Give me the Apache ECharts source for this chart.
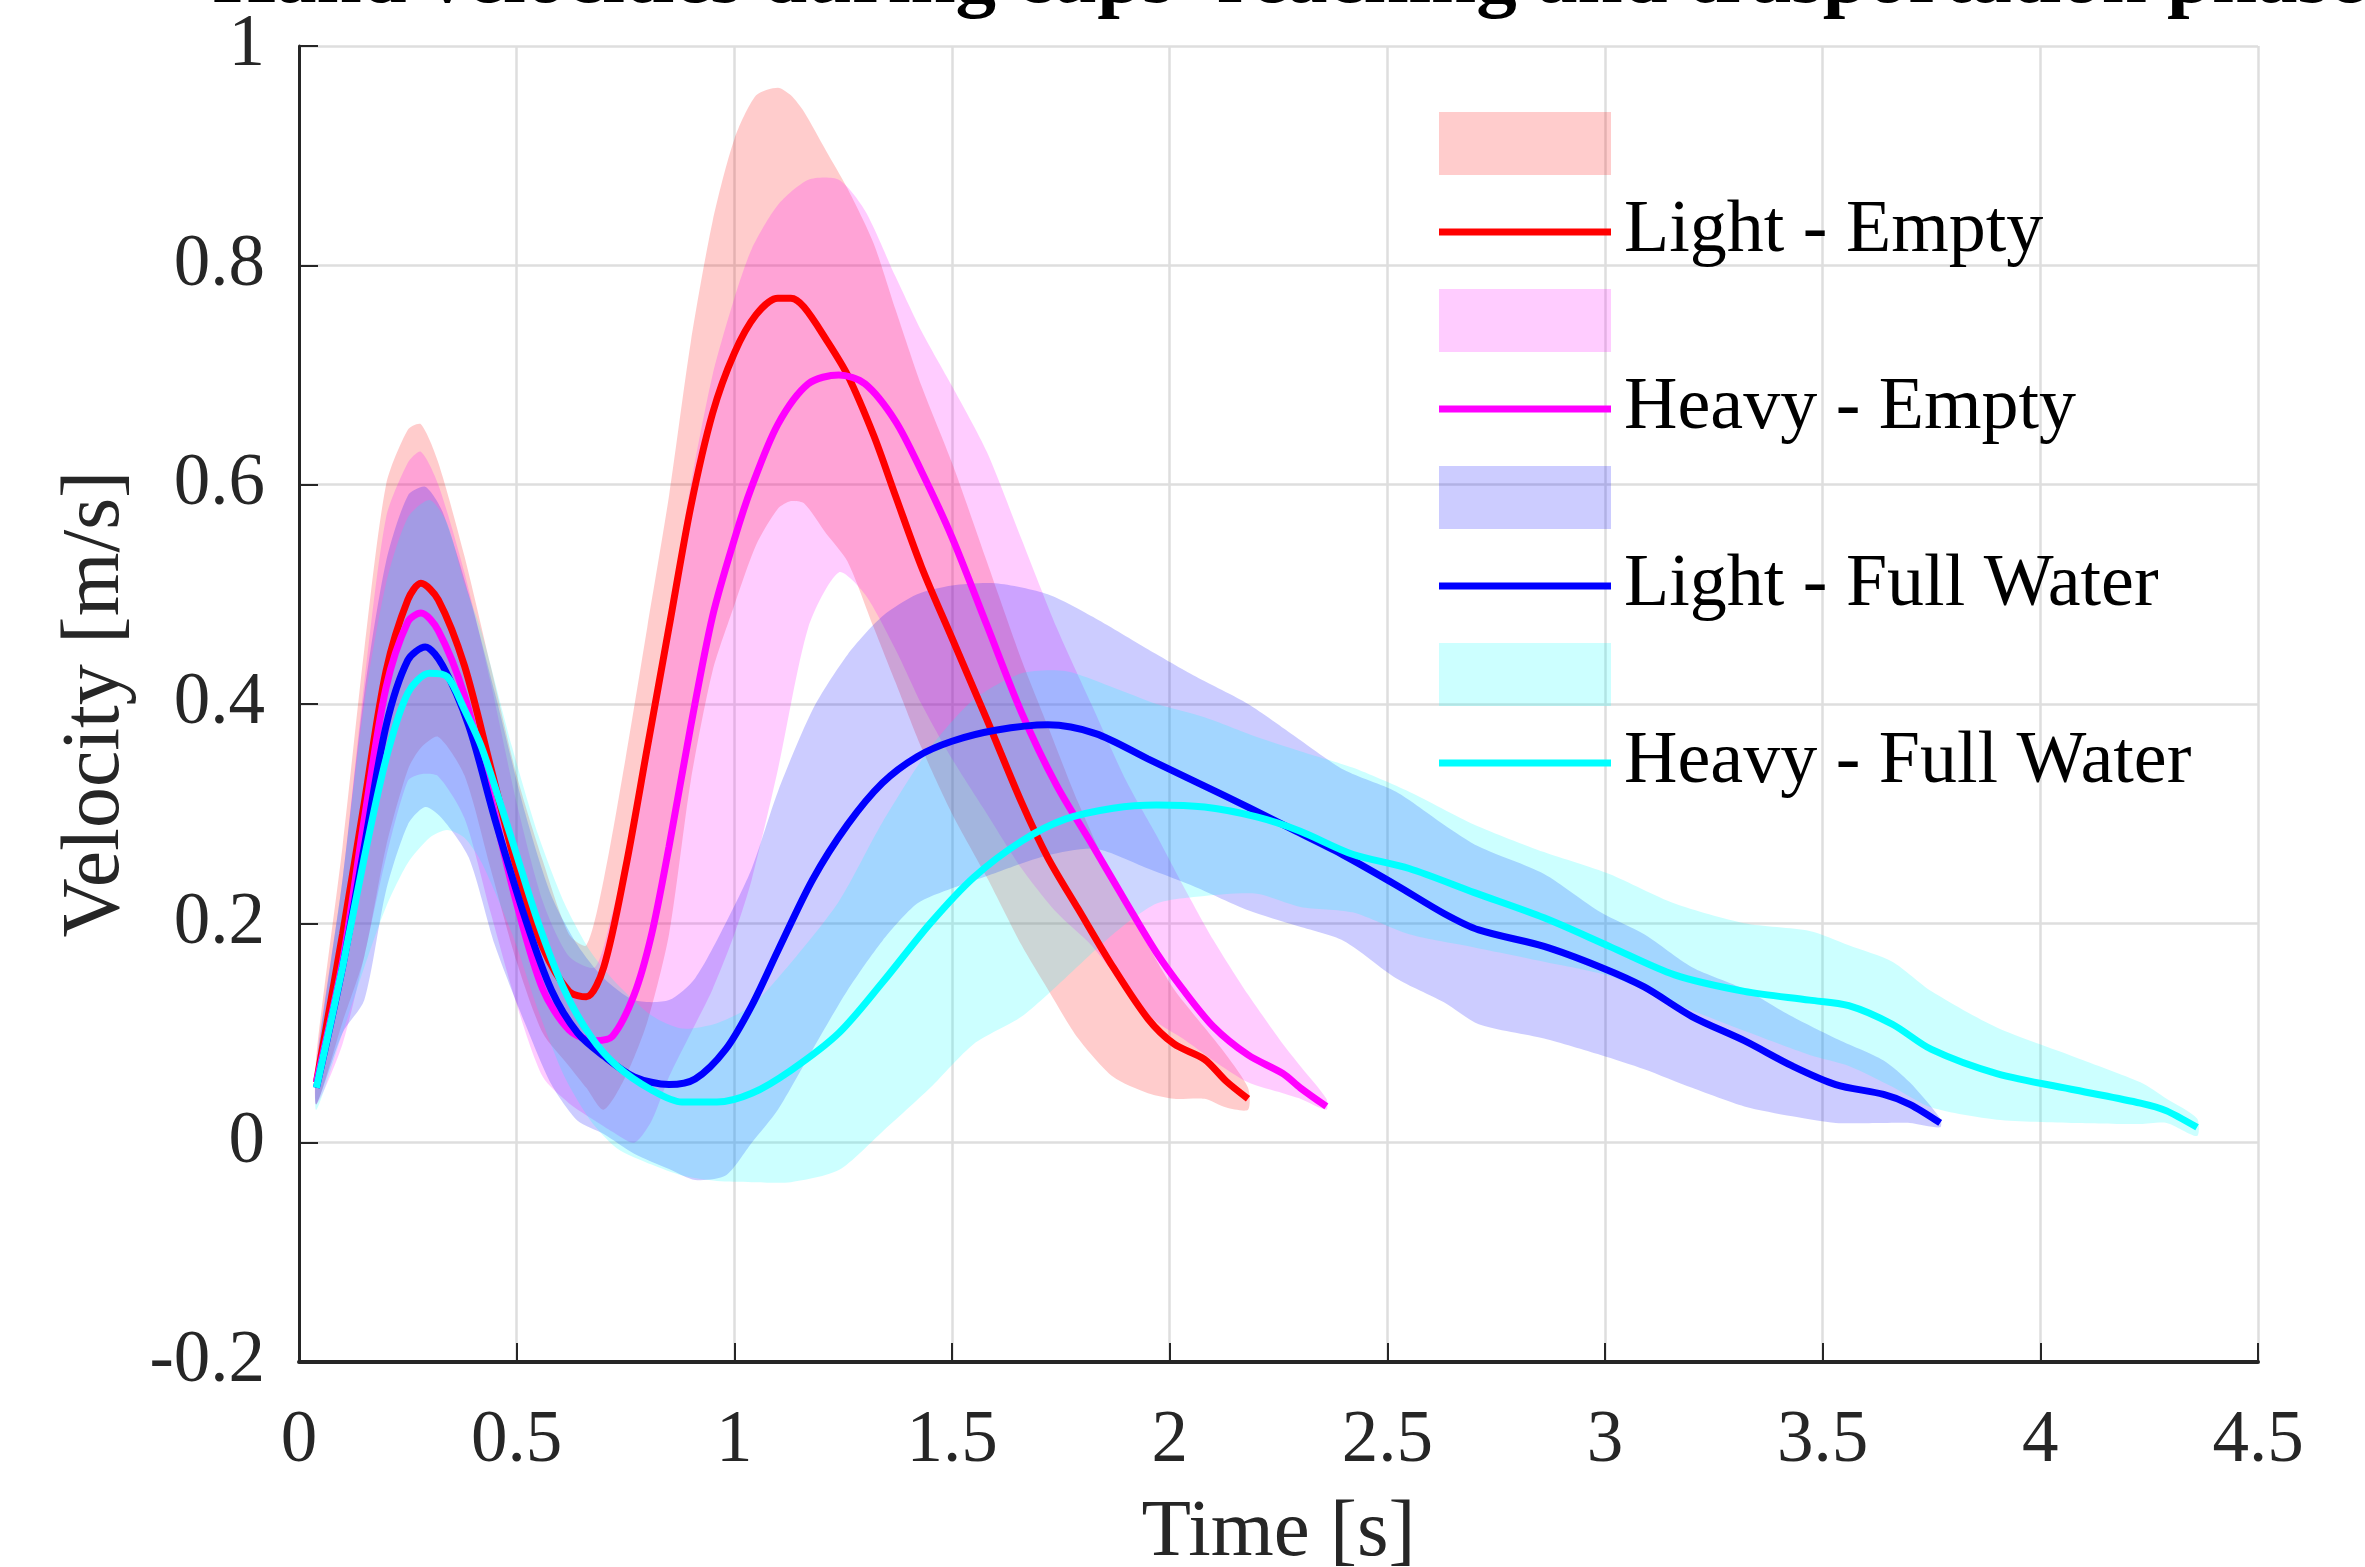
<!DOCTYPE html>
<html>
<head>
<meta charset="utf-8">
<script src="https://cdn.jsdelivr.net/npm/echarts@6/dist/echarts.min.js"></script>
<style>html,body{margin:0;padding:0;background:#fff}#chart{width:2365px;height:1567px}</style>
</head>
<body>
<div id="chart"></div>
<script>
// ---- Data ----
const TITLE = "Hand velocities during cups' reaching and trasportation phase";
const X_TICKS = [0, 0.5, 1, 1.5, 2, 2.5, 3, 3.5, 4, 4.5];
const Y_TICKS = [-0.2, 0, 0.2, 0.4, 0.6, 0.8, 1];

// Light - Empty
const T_LE = [0.04,0.10,0.15,0.20,0.25,0.28,0.32,0.38,0.44,0.50,0.56,0.62,0.66,0.70,0.75,0.80,0.85,0.90,0.95,1.00,1.05,1.10,1.13,1.16,1.21,1.26,1.32,1.37,1.43,1.50,1.58,1.66,1.72,1.79,1.87,1.95,2.01,2.08,2.13,2.18];
const M_LE = [0.055,0.19,0.31,0.43,0.495,0.51,0.495,0.435,0.343,0.25,0.178,0.138,0.133,0.16,0.25,0.36,0.47,0.58,0.665,0.72,0.755,0.77,0.77,0.762,0.733,0.70,0.645,0.59,0.525,0.46,0.386,0.31,0.26,0.213,0.16,0.113,0.09,0.076,0.056,0.04];
const U_LE = [0.08,0.27,0.45,0.60,0.65,0.655,0.62,0.535,0.435,0.335,0.257,0.19,0.18,0.24,0.35,0.47,0.59,0.73,0.84,0.915,0.955,0.962,0.955,0.94,0.905,0.87,0.82,0.76,0.69,0.62,0.53,0.44,0.38,0.31,0.24,0.18,0.14,0.105,0.08,0.05];
const L_LE = [0.035,0.11,0.17,0.27,0.34,0.36,0.37,0.335,0.25,0.165,0.1,0.07,0.05,0.03,0.06,0.11,0.19,0.33,0.43,0.49,0.545,0.578,0.585,0.583,0.556,0.53,0.47,0.42,0.36,0.30,0.242,0.18,0.14,0.095,0.06,0.045,0.04,0.04,0.032,0.03];

// Heavy - Empty
const T_HE = [0.04,0.10,0.15,0.20,0.25,0.28,0.32,0.38,0.44,0.50,0.56,0.62,0.68,0.72,0.77,0.81,0.85,0.90,0.95,1.00,1.04,1.10,1.17,1.24,1.30,1.37,1.43,1.50,1.58,1.66,1.74,1.82,1.90,1.97,2.03,2.10,2.18,2.26,2.30,2.36];
const M_HE = [0.055,0.165,0.295,0.415,0.475,0.483,0.467,0.408,0.315,0.218,0.14,0.103,0.093,0.097,0.135,0.19,0.27,0.38,0.48,0.55,0.598,0.655,0.692,0.70,0.692,0.658,0.612,0.552,0.472,0.392,0.326,0.273,0.219,0.173,0.14,0.106,0.08,0.063,0.05,0.033];
const U_HE = [0.075,0.24,0.42,0.57,0.62,0.63,0.60,0.52,0.42,0.31,0.22,0.17,0.16,0.21,0.29,0.37,0.48,0.60,0.70,0.77,0.815,0.855,0.878,0.878,0.85,0.79,0.74,0.69,0.63,0.55,0.47,0.40,0.33,0.28,0.235,0.185,0.135,0.09,0.07,0.04];
const L_HE = [0.035,0.09,0.17,0.26,0.33,0.336,0.334,0.296,0.21,0.126,0.06,0.036,0.02,0.01,0.0,0.02,0.06,0.10,0.14,0.19,0.24,0.34,0.47,0.52,0.50,0.45,0.40,0.35,0.30,0.25,0.21,0.18,0.14,0.11,0.095,0.075,0.055,0.045,0.04,0.03];

// Light - Full Water
const T_LF = [0.04,0.10,0.15,0.20,0.25,0.29,0.33,0.39,0.45,0.52,0.58,0.64,0.70,0.77,0.85,0.91,0.98,1.04,1.10,1.18,1.26,1.34,1.42,1.50,1.60,1.72,1.83,1.95,2.06,2.18,2.29,2.40,2.52,2.63,2.71,2.86,2.99,3.09,3.20,3.32,3.43,3.53,3.64,3.70,3.77];
const M_LF = [0.05,0.16,0.27,0.38,0.44,0.452,0.435,0.38,0.295,0.204,0.139,0.10,0.079,0.06,0.053,0.058,0.085,0.125,0.175,0.24,0.29,0.328,0.352,0.366,0.376,0.381,0.373,0.35,0.329,0.306,0.284,0.262,0.235,0.209,0.194,0.179,0.16,0.142,0.115,0.093,0.07,0.053,0.044,0.035,0.018];
const U_LF = [0.07,0.24,0.41,0.53,0.59,0.598,0.575,0.50,0.41,0.30,0.225,0.18,0.15,0.13,0.13,0.15,0.20,0.25,0.32,0.395,0.445,0.48,0.50,0.508,0.51,0.50,0.478,0.45,0.425,0.40,0.37,0.34,0.32,0.29,0.27,0.245,0.21,0.19,0.16,0.14,0.115,0.095,0.075,0.055,0.022];
const L_LF = [0.035,0.10,0.13,0.23,0.29,0.306,0.295,0.26,0.18,0.108,0.053,0.02,0.008,-0.01,-0.024,-0.034,-0.03,0.0,0.03,0.085,0.139,0.184,0.218,0.232,0.246,0.262,0.268,0.25,0.233,0.212,0.198,0.184,0.15,0.128,0.108,0.095,0.08,0.067,0.05,0.033,0.024,0.018,0.018,0.018,0.014];

// Heavy - Full Water
const T_HF = [0.04,0.10,0.15,0.20,0.25,0.30,0.34,0.38,0.42,0.49,0.55,0.61,0.67,0.73,0.81,0.88,0.96,1.04,1.13,1.24,1.34,1.45,1.55,1.66,1.76,1.87,1.97,2.08,2.20,2.30,2.42,2.55,2.70,2.86,3.01,3.16,3.32,3.47,3.56,3.66,3.75,3.90,4.08,4.23,4.29,4.36];
const M_HF = [0.05,0.16,0.26,0.35,0.41,0.428,0.425,0.395,0.36,0.275,0.2,0.139,0.097,0.07,0.048,0.037,0.037,0.045,0.066,0.1,0.146,0.2,0.242,0.275,0.295,0.305,0.308,0.306,0.297,0.284,0.263,0.25,0.228,0.205,0.179,0.153,0.138,0.13,0.125,0.108,0.085,0.063,0.048,0.036,0.029,0.014];
const U_HF = [0.07,0.24,0.40,0.51,0.57,0.586,0.565,0.51,0.465,0.36,0.28,0.218,0.174,0.145,0.116,0.104,0.109,0.125,0.164,0.22,0.292,0.36,0.404,0.428,0.43,0.415,0.40,0.388,0.37,0.357,0.342,0.32,0.29,0.265,0.245,0.218,0.2,0.193,0.18,0.165,0.138,0.105,0.078,0.055,0.04,0.022];
const L_HF = [0.03,0.1,0.16,0.215,0.255,0.278,0.285,0.278,0.255,0.19,0.12,0.06,0.02,-0.005,-0.02,-0.03,-0.035,-0.036,-0.036,-0.025,0.01,0.05,0.09,0.115,0.15,0.19,0.218,0.225,0.227,0.215,0.21,0.19,0.178,0.165,0.152,0.127,0.102,0.08,0.07,0.051,0.032,0.021,0.018,0.017,0.018,0.006];

const NAMES = ['Light - Empty', 'Heavy - Empty', 'Light - Full Water', 'Heavy - Full Water'];
const LINE_COLORS = ['#ff0000', '#ff00ff', '#0000ff', '#00ffff'];
const BAND_COLORS = ['rgba(255,0,0,0.2)', 'rgba(255,0,255,0.2)', 'rgba(0,0,255,0.2)', 'rgba(0,255,255,0.2)'];

// ---- Build ----
const FONT = '"Liberation Serif", "Times New Roman", serif';
const groups = [
  [T_LE, M_LE, U_LE, L_LE],
  [T_HE, M_HE, U_HE, L_HE],
  [T_LF, M_LF, U_LF, L_LF],
  [T_HF, M_HF, U_HF, L_HF]
];

function bandSeries(name, T, U, L, color) {
  return {
    type: 'custom',
    name: name,
    silent: true,
    clip: true,
    itemStyle: { color: color },
    data: T.map((t, i) => [t, L[i], U[i]]),
    encode: { x: 0, y: [1, 2] },
    renderItem: function (params, api) {
      if (params.dataIndex !== 0) return null;
      const pts = [];
      for (let i = 0; i < T.length; i++) pts.push(api.coord([T[i], U[i]]));
      for (let i = T.length - 1; i >= 0; i--) pts.push(api.coord([T[i], L[i]]));
      return { type: 'polygon', shape: { points: pts, smooth: 0.25 }, style: { fill: color, stroke: null } };
    }
  };
}

const series = [];
const legendData = [];
groups.forEach((g, k) => {
  const [T, M, U, L] = g;
  const bandName = NAMES[k] + ' band';
  series.push(bandSeries(bandName, T, U, L, BAND_COLORS[k]));
  series.push({
    type: 'line', name: NAMES[k], data: T.map((t, i) => [t, M[i]]),
    showSymbol: false, symbol: 'none', smooth: 0.3, silent: true,
    color: LINE_COLORS[k],
    lineStyle: { color: LINE_COLORS[k], width: 7 }
  });
  legendData.push({ name: bandName, icon: 'rect', itemStyle: { color: BAND_COLORS[k] } });
  legendData.push({ name: NAMES[k], icon: 'path://M0,0H172V7H0Z', itemStyle: { color: LINE_COLORS[k] } });
});

const chart = echarts.init(document.getElementById('chart'), null, { renderer: 'canvas' });
chart.setOption({
  animation: false,
  backgroundColor: '#ffffff',
  grid: { left: 299, right: 107, top: 46, bottom: 205, containLabel: false, outerBoundsMode: 'none' },
  graphic: [{
    type: 'text', x: 1289, y: -59, z: 100,
    style: { text: TITLE, font: 'bold 81px ' + FONT, fill: '#000',
             align: 'center', verticalAlign: 'top', textAlign: 'center', textVerticalAlign: 'top' }
  }],
  legend: {
    orient: 'vertical', left: 1434, top: 107,
    itemWidth: 172, itemHeight: 63, itemGap: 20,
    selectedMode: false,
    data: legendData,
    formatter: n => (n.endsWith(' band') ? '' : n),
    textStyle: { fontFamily: FONT, fontSize: 74, color: '#000', padding: [0, 0, 0, 8] }
  },
  xAxis: {
    type: 'value', min: X_TICKS[0], max: X_TICKS[X_TICKS.length - 1], interval: 0.5,
    name: 'Time [s]', nameLocation: 'middle', nameGap: 131,
    nameTextStyle: { fontFamily: FONT, fontSize: 81, color: '#262626' },
    axisLine: { show: true, onZero: false, lineStyle: { color: '#262626', width: 4 } },
    axisTick: { show: true, inside: true, length: 19, lineStyle: { color: '#262626', width: 2 } },
    axisLabel: { fontFamily: FONT, fontSize: 73, color: '#262626', margin: 43 },
    splitLine: { show: true, lineStyle: { color: '#dedede', width: 2.5 } }
  },
  yAxis: {
    type: 'value', min: Y_TICKS[0], max: Y_TICKS[Y_TICKS.length - 1], interval: 0.2,
    name: 'Velocity [m/s]', nameLocation: 'middle', nameGap: 162, nameRotate: 90,
    nameTextStyle: { fontFamily: FONT, fontSize: 82, color: '#262626' },
    axisLine: { show: true, onZero: false, lineStyle: { color: '#262626', width: 3 } },
    axisTick: { show: true, inside: true, length: 19, lineStyle: { color: '#262626', width: 2 } },
    axisLabel: { fontFamily: FONT, fontSize: 73, color: '#262626', margin: 34,
                 formatter: v => String(Math.round(v * 10) / 10) },
    splitLine: { show: true, lineStyle: { color: '#dedede', width: 2.5 } }
  },
  series: series
});
</script>
</body>
</html>
